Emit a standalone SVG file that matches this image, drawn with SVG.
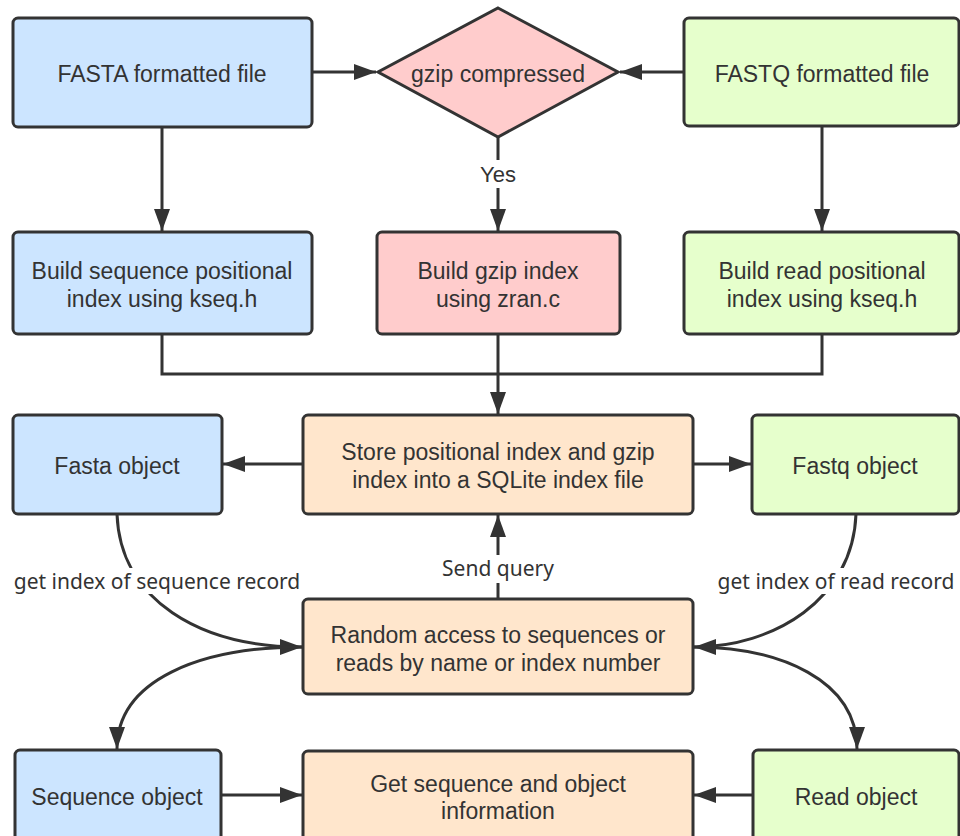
<svg xmlns="http://www.w3.org/2000/svg" width="960" height="836" viewBox="0 0 960 836">
<defs>
<style>
.n{stroke:#333;stroke-width:3}
.blue{fill:#cce5ff}.pink{fill:#ffcccc}.green{fill:#e6ffcc}.orange{fill:#ffe6cc}
.t{font-family:"Liberation Sans",Arial,sans-serif;font-size:23px;fill:#333;text-anchor:middle}
.lb{font-family:"Noto Sans","DejaVu Sans",sans-serif;font-size:21px;fill:#333;text-anchor:middle}
.c{fill:none;stroke:#333;stroke-width:3}
</style>
<marker id="ah" markerUnits="userSpaceOnUse" markerWidth="24" markerHeight="18" refX="22" refY="8" orient="auto" viewBox="0 0 24 16">
<path d="M0,0 L22,8 L0,16 Z" fill="#333"/>
</marker>
</defs>
<rect width="960" height="836" fill="#fff"/>
<g id="connectors">
<path class="c" d="M312,72 L376,72" marker-end="url(#ah)"/>
<path class="c" d="M684,72 L620,72" marker-end="url(#ah)"/>
<path class="c" d="M162,127 L162,231" marker-end="url(#ah)"/>
<path class="c" d="M822,126 L822,231" marker-end="url(#ah)"/>
<path class="c" d="M498,137 L498,231" marker-end="url(#ah)"/>
<path class="c" d="M162,334 L162,374 L822,374 L822,334"/>
<path class="c" d="M498,334 L498,414" marker-end="url(#ah)"/>
<path class="c" d="M303,464 L223,464" marker-end="url(#ah)"/>
<path class="c" d="M693,464 L751,464" marker-end="url(#ah)"/>
<path class="c" d="M498,599 L498,515" marker-end="url(#ah)"/>
<path class="c" d="M117,514 C120,600 200,647 302,647" marker-end="url(#ah)"/>
<path class="c" d="M856,514 C853,600 773,647 694,647" marker-end="url(#ah)"/>
<path class="c" d="M303,647 C200,647 117,680 117,749" marker-end="url(#ah)"/>
<path class="c" d="M693,647 C780,647 857,680 857,749" marker-end="url(#ah)"/>
<path class="c" d="M221,795 L302,795" marker-end="url(#ah)"/>
<path class="c" d="M753,795 L694,795" marker-end="url(#ah)"/>
<rect x="476" y="160" width="44" height="28" fill="#fff"/>
<text class="t" x="498" y="182" style="font-size:22px">Yes</text>
<rect x="440" y="555" width="116" height="28" fill="#fff"/>
<text class="lb" x="498" y="576">Send query</text>
<rect x="9" y="568" width="296" height="26" fill="#fff"/>
<text class="lb" x="157" y="589">get index of sequence record</text>
<rect x="713" y="568" width="247" height="26" fill="#fff"/>
<text class="lb" x="836" y="589">get index of read record</text>
</g>
<g id="fasta-file">
<rect class="n blue" x="13" y="18" width="299" height="109" rx="5"/>
<text class="t" x="162" y="82">FASTA formatted file</text>
</g>
<g id="gzip-compressed">
<polygon class="n pink" points="498,8 618,72 498,137 378,72"/>
<text class="t" x="498" y="82">gzip compressed</text>
</g>
<g id="fastq-file">
<rect class="n green" x="684" y="18" width="275" height="108" rx="5"/>
<text class="t" x="822" y="82">FASTQ formatted file</text>
</g>
<g id="build-seq-index">
<rect class="n blue" x="13" y="232" width="299" height="102" rx="5"/>
<text class="t" x="162" y="279">Build sequence positional</text>
<text class="t" x="162" y="307">index using kseq.h</text>
</g>
<g id="build-gzip-index">
<rect class="n pink" x="377" y="232" width="243" height="102" rx="5"/>
<text class="t" x="498" y="279">Build gzip index</text>
<text class="t" x="498" y="307">using zran.c</text>
</g>
<g id="build-read-index">
<rect class="n green" x="684" y="232" width="275" height="102" rx="5"/>
<text class="t" x="822" y="279">Build read positional</text>
<text class="t" x="822" y="307">index using kseq.h</text>
</g>
<g id="fasta-object">
<rect class="n blue" x="13" y="415" width="209" height="99" rx="5"/>
<text class="t" x="117" y="474">Fasta object</text>
</g>
<g id="store-index">
<rect class="n orange" x="303" y="415" width="390" height="99" rx="5"/>
<text class="t" x="498" y="460">Store positional index and gzip</text>
<text class="t" x="498" y="488">index into a SQLite index file</text>
</g>
<g id="fastq-object">
<rect class="n green" x="752" y="415" width="207" height="99" rx="5"/>
<text class="t" x="855" y="474">Fastq object</text>
</g>
<g id="random-access">
<rect class="n orange" x="303" y="599" width="390" height="95" rx="5"/>
<text class="t" x="498" y="643">Random access to sequences or</text>
<text class="t" x="498" y="671">reads by name or index number</text>
</g>
<g id="sequence-object">
<rect class="n blue" x="15" y="750" width="206" height="94" rx="5"/>
<text class="t" x="117" y="805">Sequence object</text>
</g>
<g id="get-info">
<rect class="n orange" x="303" y="751" width="390" height="93" rx="5"/>
<text class="t" x="498" y="792">Get sequence and object</text>
<text class="t" x="498" y="819">information</text>
</g>
<g id="read-object">
<rect class="n green" x="753" y="750" width="206" height="94" rx="5"/>
<text class="t" x="856" y="805">Read object</text>
</g>
</svg>
